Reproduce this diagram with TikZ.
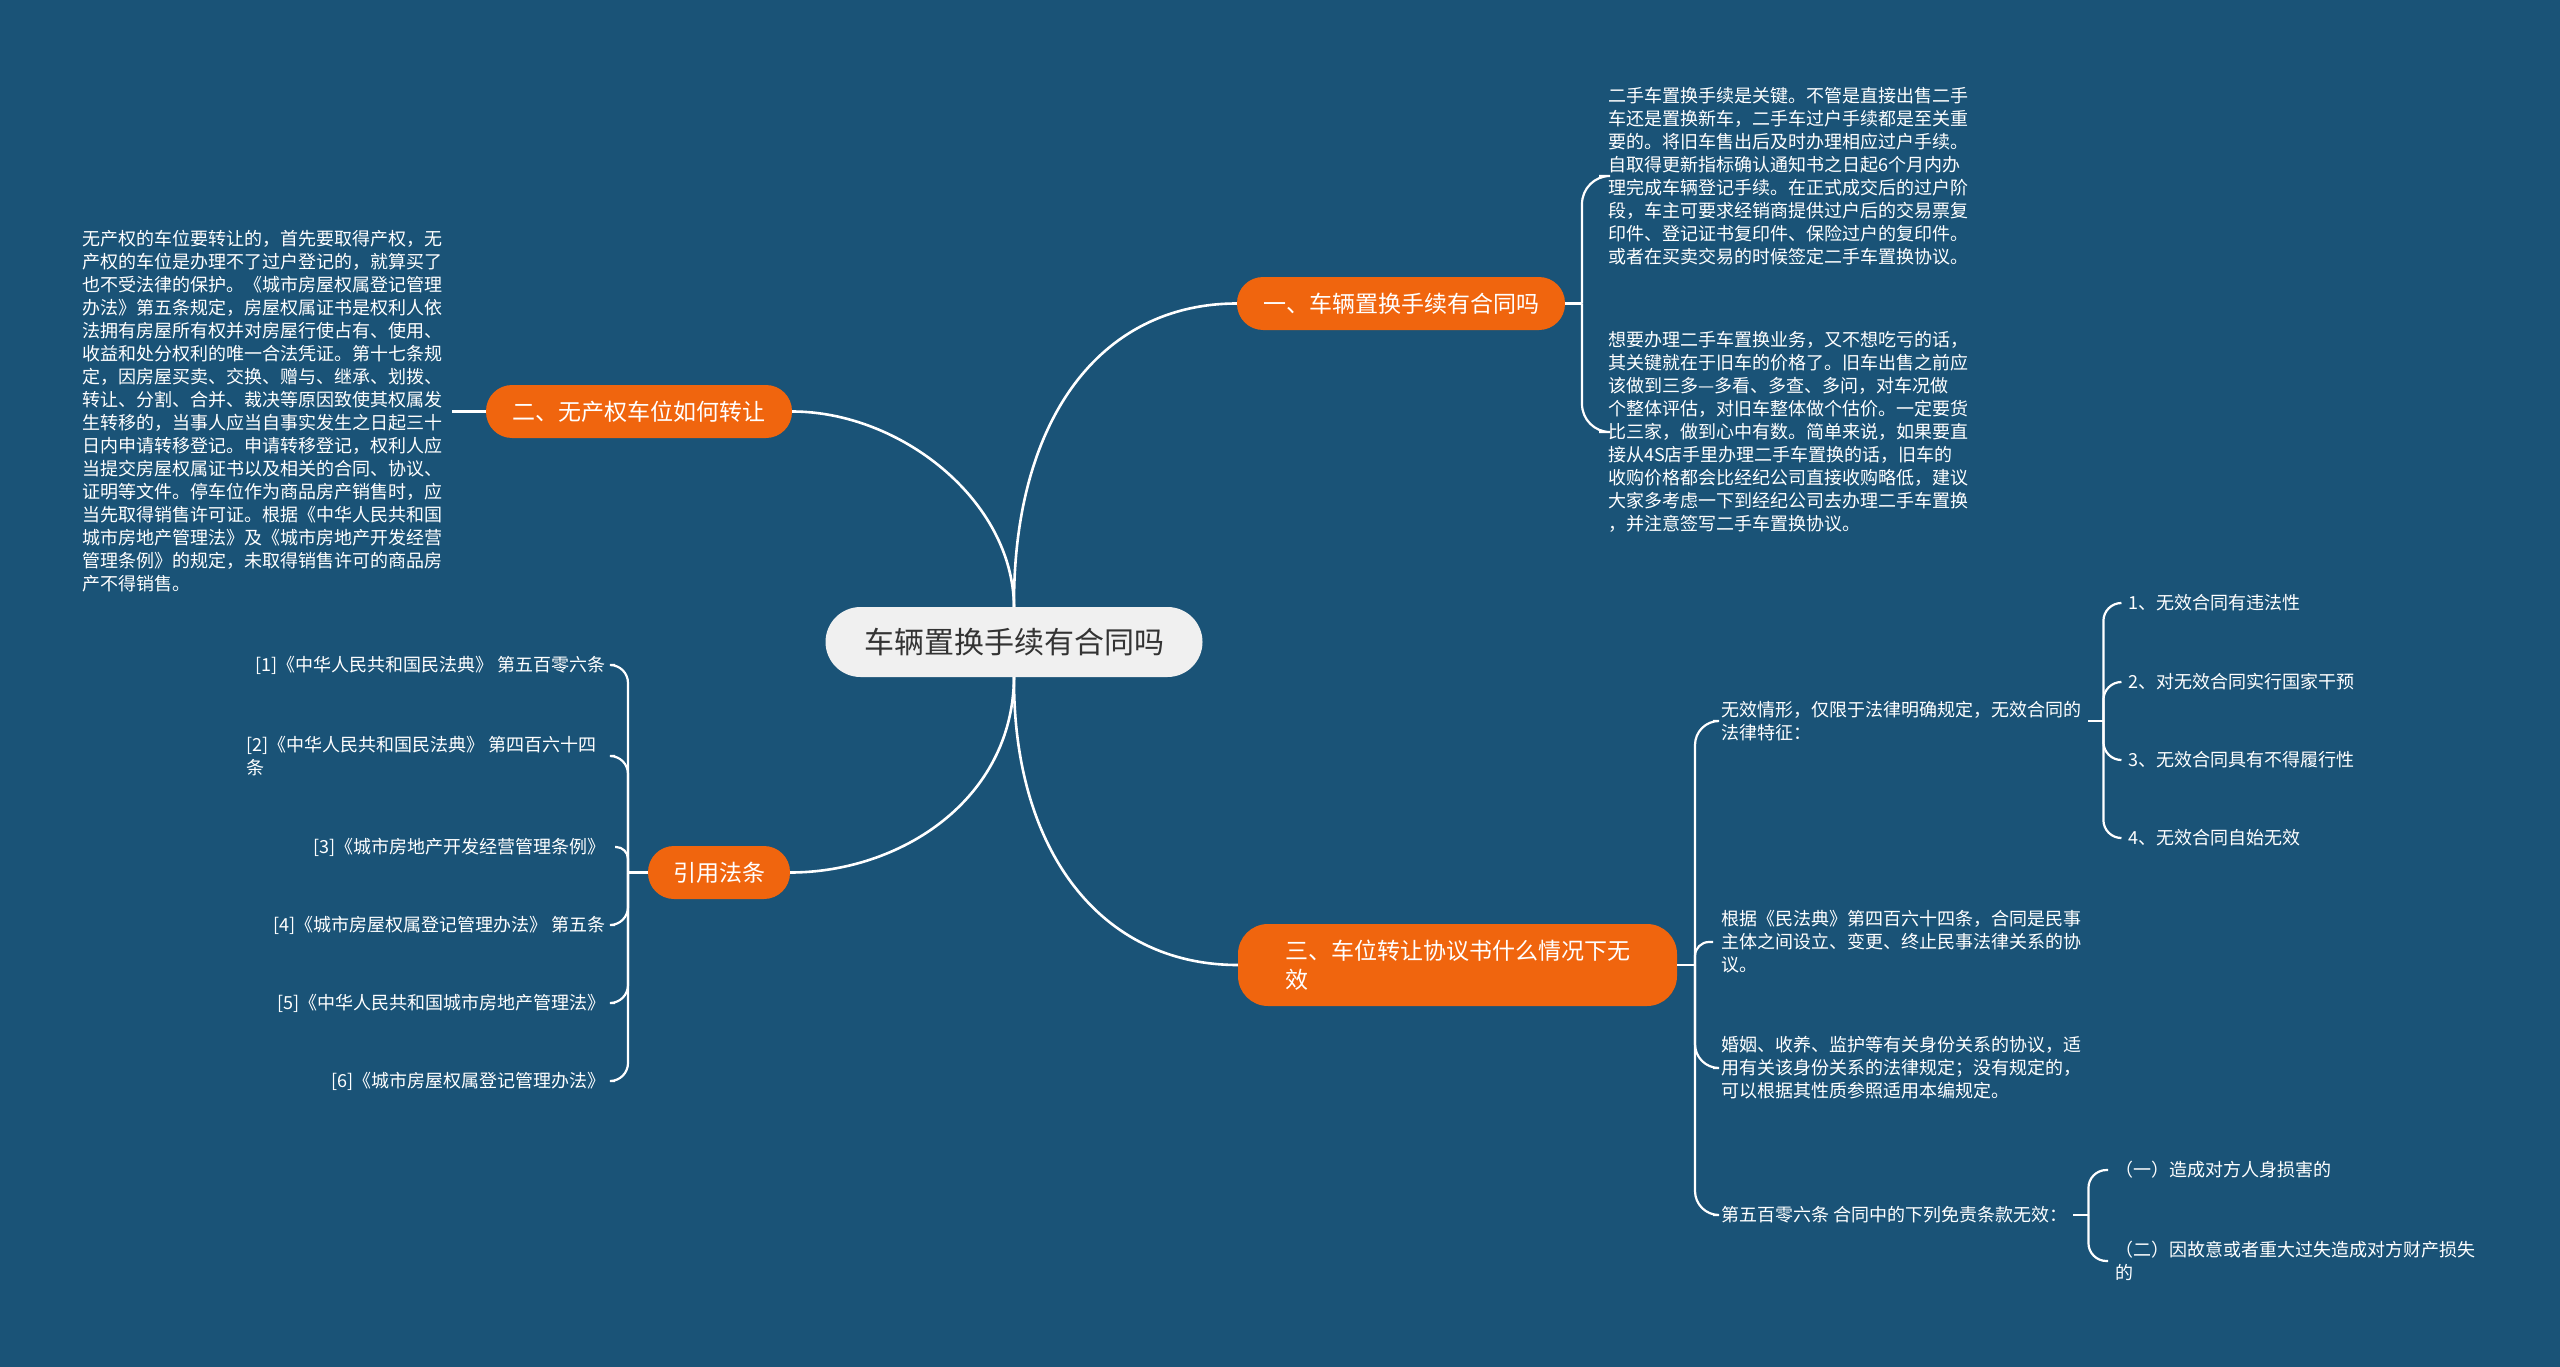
\documentclass[tikz,border=0pt]{standalone}
\usepackage{fontspec}
\setmainfont{Noto Sans CJK SC}
\definecolor{bg}{RGB}{26,83,119}
\definecolor{orng}{RGB}{240,101,14}
\definecolor{cen}{RGB}{240,240,240}
\definecolor{dark}{RGB}{51,51,51}
\tikzset{
  rootnode/.style={fill=cen, text=dark, rounded corners=35pt, minimum width=377pt, minimum height=70pt, inner sep=0pt, font=\fontsize{30pt}{36pt}\selectfont},
  branchnode/.style={fill=orng, text=white, rounded corners=26pt, minimum height=53pt, inner sep=0pt, font=\fontsize{23pt}{29pt}\selectfont},
  leafnode/.style={text=white, align=left, inner sep=0pt, font=\fontsize{18pt}{23pt}\selectfont},
  rleafnode/.style={text=white, align=right, inner sep=0pt, font=\fontsize{18pt}{23pt}\selectfont},
  mainline/.style={draw=white, line width=2.6pt},
  leafline/.style={draw=white, line width=2.2pt, rounded corners=18pt},
}
\begin{document}
\begin{tikzpicture}[x=1pt,y=-1pt]
\path[use as bounding box, fill=bg] (0,0) rectangle (2560,1367);

% root and branches
\node[rootnode] (root) at (1014,642) {车辆置换手续有合同吗};
\node[branchnode, minimum width=328pt] (b1) at (1401,303.5) {一、车辆置换手续有合同吗};
\node[branchnode, minimum width=306pt] (b2) at (639,411.5) {二、无产权车位如何转让};
\node[branchnode, minimum width=142pt] (b3) at (719,872.5) {引用法条};
\node[branchnode, align=left, minimum width=439pt, minimum height=82pt, rounded corners=30pt] (b4) at (1457.5,965) {三、车位转让协议书什么情况下无\\效};

% main connectors
\draw[mainline] (root.north) .. controls (1013,420) and (1100,303.5) .. (b1.west);
\draw[mainline] (root.north) .. controls (1013,500) and (900,411.5) .. (b2.east);
\draw[mainline] (root.south) .. controls (1013,800) and (900,872.5) .. (b3.east);
\draw[mainline] (root.south) .. controls (1013,850) and (1100,965) .. (b4.west);

% branch 1 leaves
\node[leafnode, anchor=west] (l11) at (1608,176) {二手车置换手续是关键。不管是直接出售二手\\
车还是置换新车，二手车过户手续都是至关重\\
要的。将旧车售出后及时办理相应过户手续。\\
自取得更新指标确认通知书之日起6个月内办\\
理完成车辆登记手续。在正式成交后的过户阶\\
段，车主可要求经销商提供过户后的交易票复\\
印件、登记证书复印件、保险过户的复印件。\\
或者在买卖交易的时候签定二手车置换协议。};
\node[leafnode, anchor=west] (l12) at (1608,432) {想要办理二手车置换业务，又不想吃亏的话，\\
其关键就在于旧车的价格了。旧车出售之前应\\
该做到三多—多看、多查、多问，对车况做\\
个整体评估，对旧车整体做个估价。一定要货\\
比三家，做到心中有数。简单来说，如果要直\\
接从4S店手里办理二手车置换的话，旧车的\\
收购价格都会比经纪公司直接收购略低，建议\\
大家多考虑一下到经纪公司去办理二手车置换\\
，并注意签写二手车置换协议。};
\coordinate (j1) at (1582,303.5);
\draw[leafline] (b1.east) -- (j1);
\draw[leafline, rounded corners=28pt] (j1) |- ([xshift=-9pt]l11.west);
\draw[leafline, rounded corners=28pt] (j1) |- ([xshift=-9pt]l12.west);

% branch 2 leaf
\node[leafnode, anchor=east] (l2) at (443,411.5) {无产权的车位要转让的，首先要取得产权，无\\
产权的车位是办理不了过户登记的，就算买了\\
也不受法律的保护。《城市房屋权属登记管理\\
办法》第五条规定，房屋权属证书是权利人依\\
法拥有房屋所有权并对房屋行使占有、使用、\\
收益和处分权利的唯一合法凭证。第十七条规\\
定，因房屋买卖、交换、赠与、继承、划拨、\\
转让、分割、合并、裁决等原因致使其权属发\\
生转移的，当事人应当自事实发生之日起三十\\
日内申请转移登记。申请转移登记，权利人应\\
当提交房屋权属证书以及相关的合同、协议、\\
证明等文件。停车位作为商品房产销售时，应\\
当先取得销售许可证。根据《中华人民共和国\\
城市房地产管理法》及《城市房地产开发经营\\
管理条例》的规定，未取得销售许可的商品房\\
产不得销售。};
\draw[leafline] (b2.west) -- ([xshift=9pt]l2.east);

% branch 3 leaves
\node[rleafnode, anchor=east] (r1) at (606,665) {[1]《中华人民共和国民法典》 第五百零六条};
\node[leafnode, anchor=east] (r2) at (597,756) {[2]《中华人民共和国民法典》 第四百六十四\\条};
\node[rleafnode, anchor=east] (r3) at (606,847) {[3]《城市房地产开发经营管理条例》};
\node[rleafnode, anchor=east] (r4) at (606,925) {[4]《城市房屋权属登记管理办法》 第五条};
\node[rleafnode, anchor=east] (r5) at (606,1003) {[5]《中华人民共和国城市房地产管理法》};
\node[rleafnode, anchor=east] (r6) at (606,1081) {[6]《城市房屋权属登记管理办法》};
\coordinate (j3) at (628,872.5);
\draw[leafline] (b3.west) -- (j3);
\draw[leafline] (j3) |- ([xshift=9pt]r1.east);
\draw[leafline] (j3) |- ([xshift=18pt]r2.east);
\draw[leafline, rounded corners=12pt] (j3) |- ([xshift=9pt]r3.east);
\draw[leafline] (j3) |- ([xshift=9pt]r4.east);
\draw[leafline] (j3) |- ([xshift=9pt]r5.east);
\draw[leafline] (j3) |- ([xshift=9pt]r6.east);

% branch 4 leaves
\node[leafnode, anchor=west] (c1) at (1721,721) {无效情形，仅限于法律明确规定，无效合同的\\法律特征：};
\node[leafnode, anchor=west] (c2) at (1721,942) {根据《民法典》第四百六十四条，合同是民事\\主体之间设立、变更、终止民事法律关系的协\\议。};
\node[leafnode, anchor=west] (c3) at (1721,1068) {婚姻、收养、监护等有关身份关系的协议，适\\用有关该身份关系的法律规定；没有规定的，\\可以根据其性质参照适用本编规定。};
\node[leafnode, anchor=west] (c4) at (1721,1215) {第五百零六条 合同中的下列免责条款无效：};
\coordinate (j4) at (1695,965);
\draw[leafline] (b4.east) -- (j4);
\draw[leafline, rounded corners=24pt] (j4) |- ([xshift=-8pt]c1.west);
\draw[leafline, rounded corners=14pt] (j4) |- ([xshift=-8pt]c2.west);
\draw[leafline, rounded corners=24pt] (j4) |- ([xshift=-8pt]c3.west);
\draw[leafline, rounded corners=24pt] (j4) |- ([xshift=-8pt]c4.west);

% sub leaves of c1
\node[leafnode, anchor=west] (d1) at (2128,603) {1、无效合同有违法性};
\node[leafnode, anchor=west] (d2) at (2128,682) {2、对无效合同实行国家干预};
\node[leafnode, anchor=west] (d3) at (2128,760) {3、无效合同具有不得履行性};
\node[leafnode, anchor=west] (d4) at (2128,838) {4、无效合同自始无效};
\coordinate (j41) at ([xshift=22pt]c1.east);
\draw[leafline] ([xshift=7pt]c1.east) -- (j41);
\draw[leafline] (j41) |- ([xshift=-8pt]d1.west);
\draw[leafline] (j41) |- ([xshift=-8pt]d2.west);
\draw[leafline] (j41) |- ([xshift=-8pt]d3.west);
\draw[leafline] (j41) |- ([xshift=-8pt]d4.west);

% sub leaves of c4
\node[leafnode, anchor=west] (e1) at (2115,1170) {（一）造成对方人身损害的};
\node[leafnode, anchor=west] (e2) at (2115,1261) {（二）因故意或者重大过失造成对方财产损失\\的};
\coordinate (j44) at ([xshift=21pt]c4.east);
\draw[leafline] ([xshift=6pt]c4.east) -- (j44);
\draw[leafline] (j44) |- ([xshift=-7pt]e1.west);
\draw[leafline] (j44) |- ([xshift=-7pt]e2.west);
\end{tikzpicture}
\end{document}
